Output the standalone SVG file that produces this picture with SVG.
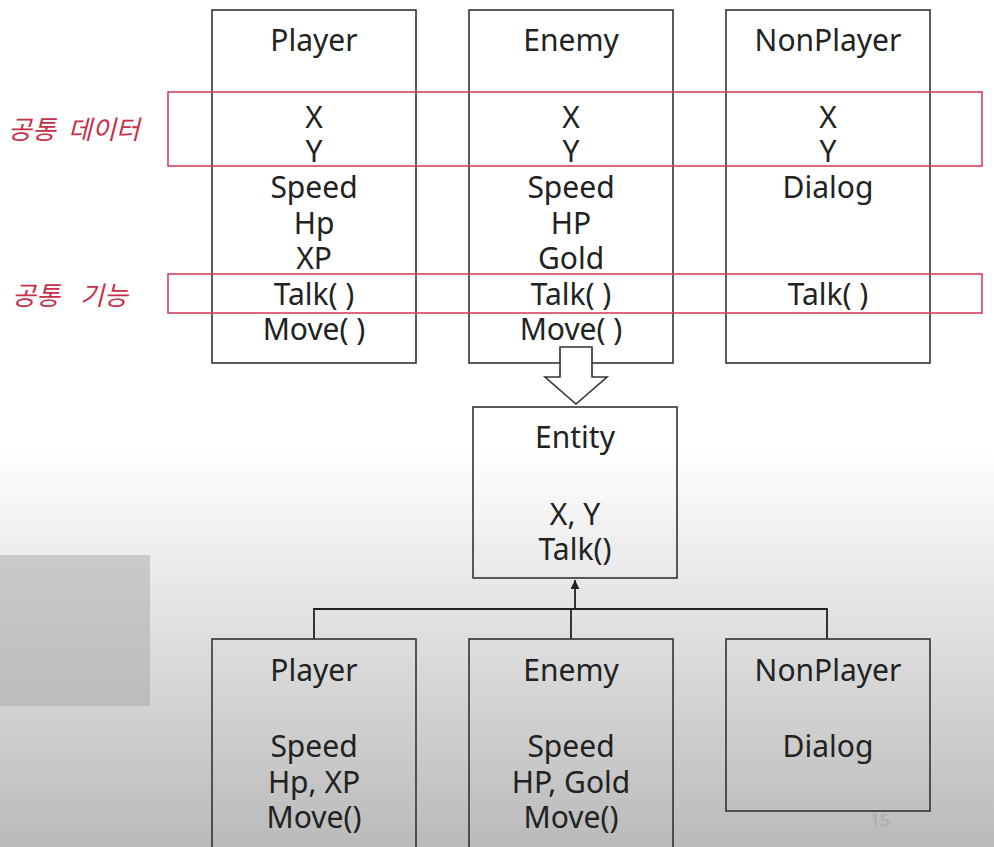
<svg xmlns="http://www.w3.org/2000/svg" width="994" height="847" viewBox="0 0 994 847">
<defs>
<linearGradient id="bg" gradientUnits="userSpaceOnUse" x1="0" y1="0" x2="0" y2="847">
<stop offset="0" stop-color="#ffffff"/>
<stop offset="0.53" stop-color="#ffffff"/>
<stop offset="1" stop-color="#bababa"/>
</linearGradient>
<linearGradient id="gb" x1="0" y1="0" x2="0" y2="1">
<stop offset="0" stop-color="#cacaca"/>
<stop offset="1" stop-color="#bcbcbc"/>
</linearGradient>
<marker id="tri" viewBox="0 0 10 10" refX="10" refY="5" markerWidth="9" markerHeight="9" markerUnits="userSpaceOnUse" orient="auto">
<path d="M0,0 L10,5 L0,10 Z" fill="#222"/>
</marker>
</defs>
<style>
.box{fill:none;stroke:#333;stroke-width:1.6}
.red{fill:none;stroke:#d3435e;stroke-width:1.6}
.t{font-family:"Noto Sans","Noto Sans CJK KR",sans-serif;font-size:30px;fill:#222;text-anchor:middle}
.lbl{font-family:"Noto Sans CJK KR","Noto Sans",sans-serif;font-size:26px;fill:#c8304a;font-style:italic}
.ln{fill:none;stroke:#222;stroke-width:1.8}
</style>
<rect x="0" y="0" width="994" height="847" fill="url(#bg)"/>
<rect x="0" y="555" width="150" height="151" fill="url(#gb)"/>

<g id="top-player">
<rect class="box" x="212" y="10" width="204" height="353"/>
<text class="t" x="314" y="51">Player</text>
<text class="t" x="314" y="128">X</text>
<text class="t" x="314" y="162">Y</text>
<text class="t" x="314" y="198">Speed</text>
<text class="t" x="314" y="234">Hp</text>
<text class="t" x="314" y="269">XP</text>
<text class="t" x="314" y="305">Talk( )</text>
<text class="t" x="314" y="340">Move( )</text>
</g>
<g id="top-enemy">
<rect class="box" x="469" y="10" width="204" height="353"/>
<text class="t" x="571" y="51">Enemy</text>
<text class="t" x="571" y="128">X</text>
<text class="t" x="571" y="162">Y</text>
<text class="t" x="571" y="198">Speed</text>
<text class="t" x="571" y="234">HP</text>
<text class="t" x="571" y="269">Gold</text>
<text class="t" x="571" y="305">Talk( )</text>
<text class="t" x="571" y="340">Move( )</text>
</g>
<g id="top-nonplayer">
<rect class="box" x="726" y="10" width="204" height="353"/>
<text class="t" x="828" y="51">NonPlayer</text>
<text class="t" x="828" y="128">X</text>
<text class="t" x="828" y="162">Y</text>
<text class="t" x="828" y="198">Dialog</text>
<text class="t" x="828" y="305">Talk( )</text>
</g>

<g id="common-data">
<rect class="red" x="168" y="92" width="814" height="74"/>
<text class="lbl" y="139"><tspan x="8">공통</tspan><tspan x="68">데이터</tspan></text>
</g>
<g id="common-func">
<rect class="red" x="168" y="274" width="814" height="39"/>
<text class="lbl" y="305"><tspan x="12">공통</tspan><tspan x="80">기능</tspan></text>
</g>

<g id="hollow-arrow">
<polygon points="560,347 592,347 592,377 607,377 576,404 545,377 560,377" fill="#ffffff" stroke="#333" stroke-width="1.6"/>
</g>

<g id="entity">
<rect class="box" x="473" y="407" width="204" height="171"/>
<text class="t" x="575" y="448">Entity</text>
<text class="t" x="575" y="525">X, Y</text>
<text class="t" x="575" y="560">Talk()</text>
</g>

<g id="connectors">
<path class="ln" d="M575,609 L575,580" marker-end="url(#tri)"/>
<path class="ln" d="M314,639 L314,609 L827,609 L827,639"/>
<path class="ln" d="M571,609 L571,639"/>
</g>

<g id="bottom-player">
<rect class="box" x="212" y="639" width="204" height="230"/>
<text class="t" x="314" y="681">Player</text>
<text class="t" x="314" y="757">Speed</text>
<text class="t" x="314" y="793">Hp, XP</text>
<text class="t" x="314" y="828">Move()</text>
</g>
<g id="bottom-enemy">
<rect class="box" x="469" y="639" width="204" height="230"/>
<text class="t" x="571" y="681">Enemy</text>
<text class="t" x="571" y="757">Speed</text>
<text class="t" x="571" y="793">HP, Gold</text>
<text class="t" x="571" y="828">Move()</text>
</g>
<g id="bottom-nonplayer">
<rect class="box" x="726" y="639" width="204" height="172"/>
<text class="t" x="828" y="681">NonPlayer</text>
<text class="t" x="828" y="757">Dialog</text>
</g>
<text x="880" y="826" font-family="Noto Sans, sans-serif" font-size="17" fill="#aaaaaa" text-anchor="middle">15</text>
</svg>
